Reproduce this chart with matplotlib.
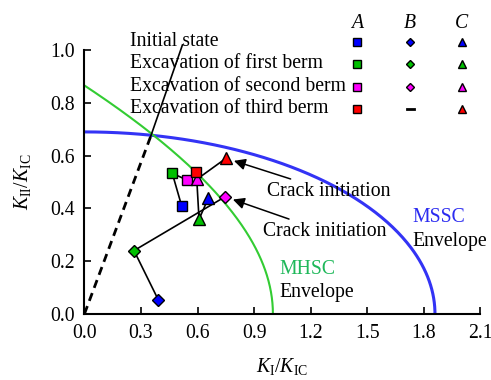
import numpy as np
import matplotlib.pyplot as plt

plt.rcParams["font.family"] = "Liberation Serif"
plt.rcParams["mathtext.fontset"] = "custom"
plt.rcParams["mathtext.rm"] = "Liberation Serif"
plt.rcParams["mathtext.it"] = "Liberation Serif:italic"

# stage colours: initial, first, second, third berm
stage_colors = ["#0000ff", "#00c000", "#ff00ff", "#ff0000"]
stage_names = ["Initial state", "Excavation of first berm",
               "Excavation of second berm", "Excavation of third berm"]

# monitoring points (K_I/K_IC, K_II/K_IC)
a_ki = [0.516, 0.466, 0.543, 0.592]
a_kii = [0.409, 0.533, 0.508, 0.539]
b_ki = [0.392, 0.263, 0.746]
b_kii = [0.053, 0.240, 0.444]
c_ki = [0.657, 0.608, 0.596, 0.751]
c_kii = [0.438, 0.359, 0.510, 0.590]

# envelopes
mssc_ki0 = 1.86
mssc_kii0 = 0.69
ray_dash = ([0.0, 0.351], [0.0, 0.672])
ray_solid = ([0.351, 0.52], [0.672, 1.02])

fs = 14.2

fig = plt.figure(figsize=(4.91, 3.8), dpi=100)
ax = fig.add_axes([0.172, 0.174, 0.806, 0.694])

# MSSC envelope (ellipse)
t = np.linspace(0, np.pi / 2, 200)
ax.plot(mssc_ki0 * np.sin(t), mssc_kii0 * np.cos(t), color="#3333f5", lw=2.2, zorder=2)

# MHSC envelope from maximum hoop stress criterion
th = np.linspace(0, np.deg2rad(-70.53), 300)
r = -np.sin(th) / (3 * np.cos(th) - 1)
ki = 1.0 / (np.cos(th / 2) * (np.cos(th / 2) ** 2 - 1.5 * r * np.sin(th)))
ax.plot(ki, r * ki, color="#33cc33", lw=1.5, zorder=2)

ax.plot(*ray_dash, color="black", lw=2.0, ls=(0, (3, 2)), zorder=3)
ax.plot(*ray_solid, color="black", lw=1.2, zorder=3, clip_on=False)

ax.plot(a_ki, a_kii, color="black", lw=1.2, zorder=3)
ax.plot(b_ki, b_kii, color="black", lw=1.2, zorder=3)
ax.plot(c_ki, c_kii, color="black", lw=1.2, zorder=3)

for i in range(4):
    ax.plot(a_ki[i], a_kii[i], "s", ms=7, mfc=stage_colors[i], mec="black", mew=1.0, zorder=4)
    ax.plot(c_ki[i], c_kii[i], "^", ms=8, mfc=stage_colors[i], mec="black", mew=1.0, zorder=4)
for i in range(3):
    ax.plot(b_ki[i], b_kii[i], "D", ms=6, mfc=stage_colors[i], mec="black", mew=1.0, zorder=4)

# annotations
arrow = dict(arrowstyle="-|>", color="black", lw=1.1, mutation_scale=17, shrinkA=0, shrinkB=6)
ax.annotate("Crack initiation", xy=(c_ki[3], c_kii[3]), xytext=(0.97, 0.465),
            fontsize=fs, va="center", ha="left", arrowprops=arrow)
ax.annotate("Crack initiation", xy=(b_ki[2], b_kii[2]), xytext=(0.945, 0.313),
            fontsize=fs, va="center", ha="left", arrowprops=arrow)
ax.text(1.74, 0.365, "MSSC", color="#2b2bf0", fontsize=fs, va="center")
ax.text(1.74, 0.275, "Envelope", fontsize=fs, va="center")
ax.text(1.035, 0.17, "MHSC", color="#1fb85a", fontsize=fs, va="center")
ax.text(1.035, 0.08, "Envelope", fontsize=fs, va="center")

# legend table
row_y = [1.032, 0.948, 0.862, 0.778]
col_x = [1.445, 1.729, 2.003]
for j, lab in enumerate(["A", "B", "C"]):
    ax.text(col_x[j], 1.1, lab, fontsize=fs, style="italic", ha="center", va="center")
for i in range(4):
    ax.text(0.24, row_y[i], stage_names[i], fontsize=fs, va="center")
    ax.plot(col_x[0], row_y[i], "s", ms=5.5, mfc=stage_colors[i], mec="black", mew=1.0, clip_on=False)
    if i < 3:
        ax.plot(col_x[1], row_y[i], "D", ms=4.5, mfc=stage_colors[i], mec="black", mew=1.0, clip_on=False)
    else:
        ax.plot([col_x[1] - 0.02, col_x[1] + 0.02], [row_y[i]] * 2, color="black", lw=2, clip_on=False)
    ax.plot(col_x[2], row_y[i], "^", ms=6, mfc=stage_colors[i], mec="black", mew=1.0, clip_on=False)

ax.set_xlim(0, 2.1)
ax.set_ylim(0, 1.0)
ax.set_xticks(np.arange(0, 2.11, 0.3))
ax.set_yticks(np.arange(0, 1.01, 0.2))
ax.xaxis.set_major_formatter(plt.FormatStrFormatter("%.1f"))
ax.yaxis.set_major_formatter(plt.FormatStrFormatter("%.1f"))
ax.tick_params(direction="in", length=5, width=1.2, labelsize=fs, pad=7)
for s in ["top", "right"]:
    ax.spines[s].set_visible(False)
for s in ["left", "bottom"]:
    ax.spines[s].set_linewidth(1.5)

ax.set_xlabel(r"$K_{\mathrm{I}}/K_{\mathrm{IC}}$", fontsize=fs, labelpad=10)
ax.set_ylabel(r"$K_{\mathrm{II}}/K_{\mathrm{IC}}$", fontsize=fs, labelpad=12)

fig.savefig("out.png", dpi=100)
